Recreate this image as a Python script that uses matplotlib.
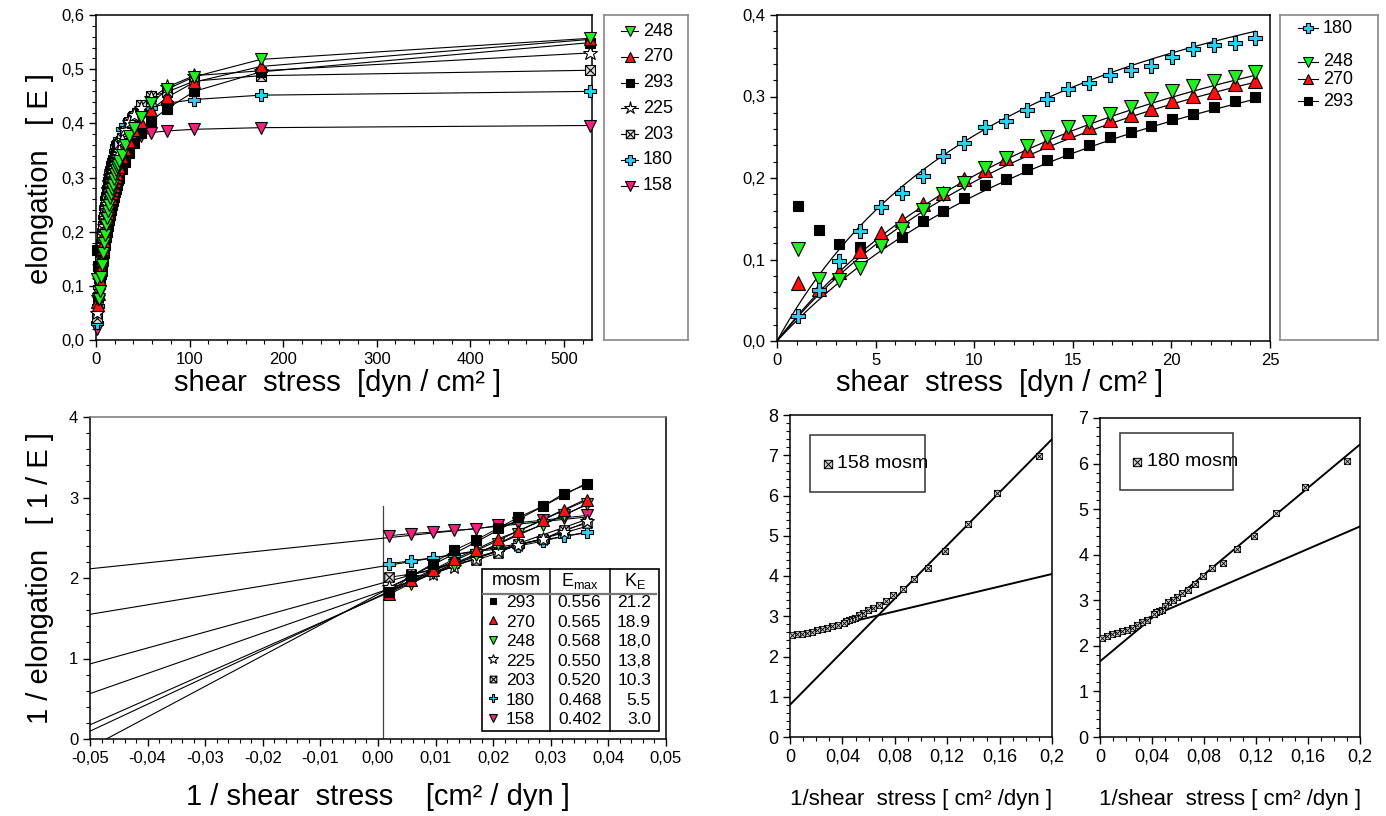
import numpy as np
import matplotlib.pyplot as plt
from matplotlib.path import Path
from matplotlib.patches import Rectangle
from matplotlib.ticker import MultipleLocator, FuncFormatter, FixedLocator

plt.rcParams['font.family'] = ['Liberation Sans', 'DejaVu Sans']
plt.rcParams['mathtext.fontset'] = 'custom'
plt.rcParams['mathtext.rm'] = 'Liberation Sans'
plt.rcParams['mathtext.it'] = 'Liberation Sans:italic'
NARROW = ['Liberation Sans Narrow', 'Liberation Sans', 'DejaVu Sans']

W, H = 1386, 816

# 1. DATA
# shear stress [dyn/cm2]
tau = [1.05, 2.11, 3.16, 4.22, 5.27, 6.33, 7.38, 8.44, 9.49, 10.55, 11.60, 12.66,
       13.71, 14.77, 15.82, 16.88, 17.93, 18.99, 20.04, 21.10, 22.15, 23.21, 24.26,
       27.5, 31.0, 35.0, 41.0, 48.0, 59.0, 76.0, 105.0, 176.0, 528.0]
N_LOW = 23   # points in the 0-25 dyn/cm2 panel
N_HIGH = 10  # points in the double reciprocal panel

# elongation E per osmolality
E_293 = [0.166, 0.136, 0.119, 0.115, 0.121, 0.128, 0.147, 0.160, 0.176, 0.191, 0.199, 0.211,
         0.222, 0.231, 0.240, 0.250, 0.257, 0.264, 0.273, 0.279, 0.287, 0.295, 0.300,
         0.316, 0.328, 0.346, 0.363, 0.382, 0.405, 0.427, 0.459, 0.495, 0.549]
E_270 = [0.071, 0.064, 0.085, 0.110, 0.133, 0.148, 0.168, 0.182, 0.199, 0.210, 0.225, 0.234,
         0.244, 0.256, 0.263, 0.271, 0.277, 0.285, 0.294, 0.301, 0.306, 0.315, 0.319,
         0.337, 0.352, 0.368, 0.387, 0.402, 0.425, 0.448, 0.476, 0.505, 0.555]
E_248 = [0.113, 0.076, 0.075, 0.090, 0.116, 0.138, 0.161, 0.180, 0.194, 0.212, 0.225, 0.239,
         0.250, 0.262, 0.269, 0.278, 0.287, 0.297, 0.307, 0.313, 0.319, 0.324, 0.330,
         0.342, 0.360, 0.376, 0.392, 0.412, 0.437, 0.463, 0.486, 0.518, 0.557]
E_225 = [0.050, 0.080, 0.110, 0.135, 0.155, 0.175, 0.195, 0.210, 0.225, 0.240, 0.252, 0.265,
         0.275, 0.285, 0.294, 0.303, 0.311, 0.318, 0.325, 0.332, 0.338, 0.344, 0.349,
         0.370, 0.388, 0.402, 0.415, 0.429, 0.446, 0.467, 0.488, 0.497, 0.530]
E_203 = [0.040, 0.080, 0.115, 0.145, 0.170, 0.190, 0.210, 0.228, 0.243, 0.256, 0.268, 0.280,
         0.290, 0.300, 0.309, 0.317, 0.325, 0.332, 0.339, 0.345, 0.351, 0.356, 0.361,
         0.373, 0.385, 0.403, 0.413, 0.433, 0.450, 0.458, 0.478, 0.488, 0.498]
E_180 = [0.031, 0.062, 0.098, 0.135, 0.165, 0.182, 0.203, 0.227, 0.243, 0.262, 0.270, 0.283,
         0.297, 0.309, 0.316, 0.326, 0.333, 0.337, 0.349, 0.358, 0.363, 0.366, 0.372,
         0.389, 0.397, 0.407, 0.417, 0.424, 0.429, 0.437, 0.444, 0.452, 0.459]
E_158 = [0.020, 0.055, 0.085, 0.115, 0.143, 0.165, 0.189, 0.216, 0.238, 0.255, 0.272, 0.284,
         0.295, 0.304, 0.311, 0.317, 0.325, 0.331, 0.337, 0.341, 0.345, 0.348, 0.352,
         0.360, 0.364, 0.368, 0.372, 0.377, 0.383, 0.386, 0.389, 0.392, 0.396]

SERIES = {'293': E_293, '270': E_270, '248': E_248, '225': E_225,
          '203': E_203, '180': E_180, '158': E_158}

# table of fitted parameters
MOSM = ['293', '270', '248', '225', '203', '180', '158']
EMAX = [0.556, 0.565, 0.568, 0.550, 0.520, 0.468, 0.402]
KE = [21.2, 18.9, 18.0, 13.8, 10.3, 5.5, 3.0]
KE_TXT = ['21.2', '18.9', '18,0', '13,8', '10.3', '5.5', '3.0']

# fitted curves drawn in the 0-25 panel
TR_NAMES = ['180', '248', '270', '293']
TR_EMAX = [0.590, 0.568, 0.565, 0.556]
TR_K = [13.4, 18.0, 18.9, 21.2]

# straight lines in the two small reciprocal panels (x0, y0, x1, y1)
LINES_158 = [(0.0, 0.80, 0.2, 7.40), (0.0, 2.50, 0.2, 4.05)]
LINES_180 = [(0.0, 1.66, 0.2, 6.42), (0.036, 2.60, 0.2, 4.62)]

TL_LEG = ['248', '270', '293', '225', '203', '180', '158']
TR_LEG = ['180', None, '248', '270', '293']

# 2. STYLES
xsq = Path([(-1, -1), (1, -1), (1, 1), (-1, 1), (-1, -1), (-1, -1), (1, 1), (-1, 1), (1, -1)],
           [Path.MOVETO, Path.LINETO, Path.LINETO, Path.LINETO, Path.CLOSEPOLY,
            Path.MOVETO, Path.LINETO, Path.MOVETO, Path.LINETO])
STYLE = {
    '293': dict(marker='s', mfc='black'),
    '270': dict(marker='^', mfc='#ff1010'),
    '248': dict(marker='v', mfc='#22ee22'),
    '225': dict(marker='*', mfc='white'),
    '203': dict(marker=xsq, mfc='#dddddd'),
    '180': dict(marker='P', mfc='#2ad2f2'),
    '158': dict(marker='v', mfc='#f0207f'),
}


def mk(name, size):
    s = dict(STYLE[name])
    sz = size * 0.8 if name in ('293', '203') else size
    if name == '225':
        sz = size * 1.25
    return dict(s, ms=sz, mec='black', mew=0.8, ls='none')


fig = plt.figure(figsize=(W / 100, H / 100), dpi=100)


def px_axes(x0, y0, x1, y1):
    return fig.add_axes([x0 / W, 1 - y1 / H, (x1 - x0) / W, (y1 - y0) / H])


def style_axes(ax, fs=12):
    ax.tick_params(which='both', direction='out', top=False, right=False, labelsize=fs)
    ax.tick_params(which='major', length=5, width=1)
    ax.tick_params(which='minor', length=3, width=0.8)
    for s in ax.spines.values():
        s.set_linewidth(1.1)


comma1 = FuncFormatter(lambda v, p: f'{v:.1f}'.replace('.', ','))

t = np.array(tau)

# top left: elongation vs shear stress, all series
ax1 = px_axes(96, 15, 592, 340)
for name in ['158', '180', '203', '225', '293', '270', '248']:
    e = np.array(SERIES[name])
    ax1.plot(t, e, color='black', lw=0.8, zorder=2)
    ax1.plot(t, e, zorder=3, **mk(name, 9))
ax1.set_xlim(0, 530)
ax1.set_ylim(0, 0.6)
ax1.xaxis.set_major_locator(MultipleLocator(100))
ax1.xaxis.set_minor_locator(MultipleLocator(20))
ax1.yaxis.set_major_locator(MultipleLocator(0.1))
ax1.yaxis.set_minor_locator(MultipleLocator(0.02))
ax1.yaxis.set_major_formatter(comma1)
style_axes(ax1)
for a in ax1.lines:
    a.set_clip_on(False)


def legend_box(rect, ylim, names, ys, xl, xt, fs=13):
    lax = px_axes(*rect)
    lax.set_xlim(0, 1)
    lax.set_ylim(*ylim)
    lax.set_xticks([])
    lax.set_yticks([])
    for s in lax.spines.values():
        s.set_color('#888888')
        s.set_linewidth(1.2)
    for name, y in zip(names, ys):
        if name is None:
            continue
        lax.plot(xl, [y, y], color='black', lw=0.8)
        lax.plot([np.mean(xl)], [y], **mk(name, 7.5))
        lax.text(xt, y, name, fontsize=fs, va='center', ha='left')


legend_box((604, 15, 688, 340), (0, 0.6), TL_LEG,
           [0.570 - i * 0.0475 for i in range(len(TL_LEG))], [0.2, 0.41], 0.46)

# top right: low stress range with fitted curves
ax2 = px_axes(777, 15, 1270, 341)
tt = np.linspace(0, tau[N_LOW - 1], 200)
for name, em, k in zip(TR_NAMES, TR_EMAX, TR_K):
    ax2.plot(tt, em * tt / (k + tt), color='black', lw=0.9, zorder=2)
for name in ['293', '270', '248', '180']:
    ax2.plot(t[:N_LOW], SERIES[name][:N_LOW], zorder=3, **mk(name, 9.5))
ax2.set_xlim(0, 25)
ax2.set_ylim(0, 0.4)
ax2.xaxis.set_major_locator(MultipleLocator(5))
ax2.xaxis.set_minor_locator(MultipleLocator(1))
ax2.yaxis.set_major_locator(MultipleLocator(0.1))
ax2.yaxis.set_minor_locator(MultipleLocator(0.02))
ax2.yaxis.set_major_formatter(comma1)
style_axes(ax2)

legend_box((1280, 15, 1378, 340), (0, 0.4), TR_LEG,
           [0.384, 0.363, 0.3425, 0.321, 0.294], [0.18, 0.39], 0.44)

# bottom left: double reciprocal plot
ax3 = px_axes(90, 417, 666, 739)
inv_t = 1 / t[-N_HIGH:]
xl = np.array([-0.05, inv_t.max()])
for name, em, k in zip(MOSM, EMAX, KE):
    ax3.plot(xl, 1 / em + k / em * xl, color='black', lw=0.8, zorder=2)
for name in ['158', '180', '203', '225', '248', '270', '293']:
    inv_e = 1 / np.array(SERIES[name][-N_HIGH:])
    ax3.plot(inv_t, inv_e, color='black', lw=0.7, zorder=2)
    ax3.plot(inv_t, inv_e, zorder=3, **mk(name, 8.5))
ax3.plot([0.0008, 0.0008], [0, 2.9], color='#444444', lw=0.9, zorder=1)
ax3.set_xlim(-0.05, 0.05)
ax3.set_ylim(0, 4)
ax3.xaxis.set_major_locator(MultipleLocator(0.01))
ax3.xaxis.set_minor_locator(MultipleLocator(0.002))
ax3.yaxis.set_major_locator(MultipleLocator(1))
ax3.yaxis.set_minor_locator(MultipleLocator(0.2))
ax3.xaxis.set_major_formatter(FuncFormatter(
    lambda v, p: ('0,00' if abs(v) < 1e-9 else f'{v:.2f}'.replace('.', ','))))
style_axes(ax3)
ax3.spines['top'].set_color('#777777')

# parameter table inside the bottom left panel
tx0, tx1, ty0, ty1 = 0.0181, 0.0487, 0.104, 2.116
ax3.add_patch(Rectangle((tx0, ty0), tx1 - tx0, ty1 - ty0, facecolor='white',
                        edgecolor='black', lw=1.2, zorder=5))
for xs in (0.0299, 0.0402):
    ax3.plot([xs, xs], [ty0, ty1], color='black', lw=1.1, zorder=6)
ax3.plot([tx0 + 0.0002, tx1 - 0.0004], [1.805, 1.805], color='#777777', lw=1.6, zorder=6)
ax3.text(0.0240, 1.967, 'mosm', fontsize=13, ha='center', va='center', zorder=7)
ax3.text(0.0350, 1.967, r'E$_{\rm max}$', fontsize=13, ha='center', va='center', zorder=7)
ax3.text(0.0446, 1.967, r'K$_{\rm E}$', fontsize=13, ha='center', va='center', zorder=7)
for i, (name, em, kt) in enumerate(zip(MOSM, EMAX, KE_TXT)):
    y = 1.69 - i * 0.2423
    ax3.plot([0.0199], [y + 0.03], zorder=7, **mk(name, 6))
    ax3.text(0.0222, y, name, fontsize=12.5, ha='left', va='center', zorder=7)
    ax3.text(0.0350, y, f'{em:.3f}', fontsize=12.5, ha='center', va='center', zorder=7)
    ax3.text(0.0474, y, kt, fontsize=12.5, ha='right', va='center', zorder=7)


# bottom middle and right: single osmolality reciprocal plots
def recip_panel(rect, name, lines, ymax, box, label):
    ax = px_axes(*rect)
    for x0, y0, x1, y1 in lines:
        ax.plot([x0, x1], [y0, y1], color='black', lw=1.4, zorder=2)
    inv_e = 1 / np.array(SERIES[name])
    ax.plot(1 / t, inv_e, ls='none', marker=xsq, ms=4.5, mfc='#cccccc',
            mec='black', mew=0.6, zorder=3)
    ax.set_xlim(0, 0.2)
    ax.set_ylim(0, ymax)
    ax.xaxis.set_major_locator(FixedLocator([0, 0.04, 0.08, 0.12, 0.16, 0.2]))
    ax.xaxis.set_minor_locator(MultipleLocator(0.01))
    ax.xaxis.set_major_formatter(FuncFormatter(
        lambda v, p: '0' if v < 1e-9 else ('0,2' if abs(v - 0.2) < 1e-9 else f'{v:.2f}'.replace('.', ','))))
    ax.yaxis.set_major_locator(MultipleLocator(1))
    ax.yaxis.set_minor_locator(MultipleLocator(0.2))
    style_axes(ax, fs=13)
    bx0, by0, bx1, by1 = box
    ax.add_patch(Rectangle((bx0, by0), bx1 - bx0, by1 - by0, facecolor='white',
                           edgecolor='#333333', lw=1.1, zorder=5))
    ym = (by0 + by1) / 2
    ax.plot([bx0 + 0.0135], [ym], ls='none', marker=xsq, ms=6, mfc='#cccccc',
            mec='black', mew=0.7, zorder=6)
    ax.text(bx0 + 0.021, ym, label, fontsize=14, family=NARROW, ha='left',
            va='center', zorder=6)
    return ax


recip_panel((790, 415, 1052, 737), '158', LINES_158, 8, (0.0152, 6.09, 0.103, 7.5), '158 mosm')
recip_panel((1100, 418, 1360, 737), '180', LINES_180, 7, (0.015, 5.43, 0.1025, 6.66), '180 mosm')

# 3. AXIS TITLES
fig.text(40 / W, 1 - 178 / H, 'elongation   [ E ]', fontsize=21, rotation=90,
         ha='center', va='center')
fig.text(338 / W, 1 - 383 / H, 'shear  stress  [dyn / cm² ]', fontsize=21,
         ha='center', va='center')
fig.text(1000 / W, 1 - 383 / H, 'shear  stress  [dyn / cm² ]', fontsize=21,
         ha='center', va='center')
fig.text(40 / W, 1 - 578 / H, '1 / elongation   [ 1 / E ]', fontsize=21, rotation=90,
         ha='center', va='center')
fig.text(378 / W, 1 - 797 / H, '1 / shear  stress    [cm² / dyn ]', fontsize=21,
         ha='center', va='center')
fig.text(921 / W, 1 - 800 / H, '1/shear  stress [ cm² /dyn ]', fontsize=16,
         family=NARROW, ha='center', va='center')
fig.text(1230 / W, 1 - 800 / H, '1/shear  stress [ cm² /dyn ]', fontsize=16,
         family=NARROW, ha='center', va='center')

fig.savefig('out.png', dpi=100, facecolor='white')
